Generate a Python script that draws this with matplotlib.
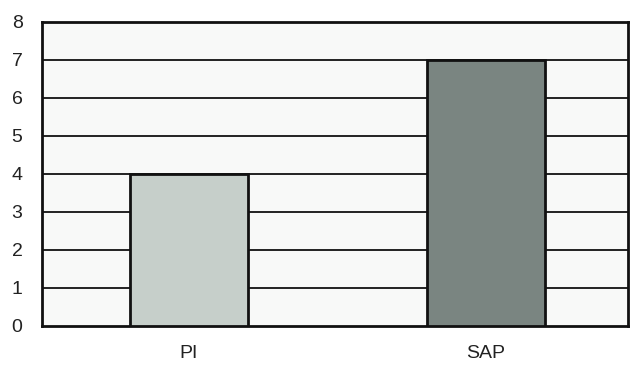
import matplotlib
matplotlib.use("Agg")
import matplotlib.pyplot as plt

categories = ["PI", "SAP"]
values = [4, 7]
yticks = [0, 1, 2, 3, 4, 5, 6, 7, 8]
bar_colors = ["#c6cfca", "#7a8581"]

plt.rcParams['font.family'] = ['Liberation Sans', 'DejaVu Sans']
fig = plt.figure(figsize=(6.31, 3.67), dpi=100)
ax = fig.add_axes([42/631, 1-326/367, (628-42)/631, (326-22)/367])
ax.set_facecolor("#f8f9f8")

x = list(range(len(categories)))
for yv in yticks[1:-1]:
    ax.axhline(yv, color="#222222", linewidth=1.4, zorder=1)
ax.bar(x, values, width=0.4, color=bar_colors, edgecolor="#111111", linewidth=2, zorder=3)

ax.set_xlim(-0.495, 1.478)
ax.set_ylim(0, 8)
ax.set_yticks(yticks)
ax.set_xticks(x)
ax.set_xticklabels(categories)
ax.tick_params(axis='both', length=0, labelsize=14, colors="#222222")
ax.tick_params(axis='y', pad=14)
ax.tick_params(axis='x', pad=14)
for s in ax.spines.values():
    s.set_linewidth(2)
    s.set_color("#111111")

fig.savefig("out.png", dpi=100)
